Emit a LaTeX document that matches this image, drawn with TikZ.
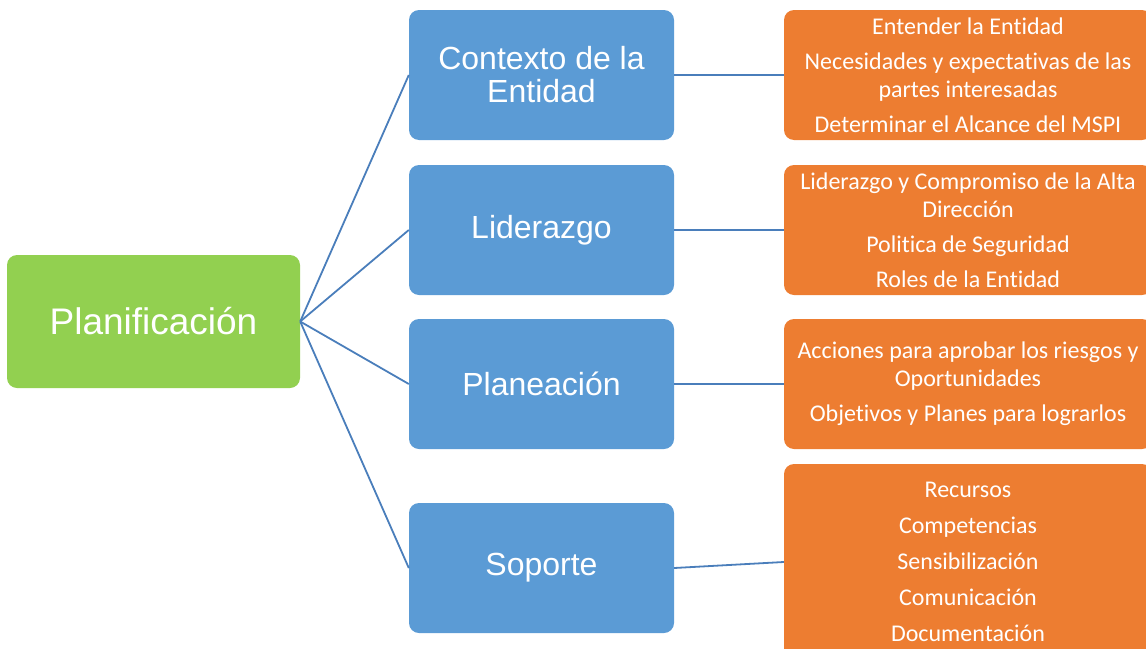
\documentclass[tikz,border=0pt]{standalone}
\usepackage{fontspec}
\setmainfont{Carlito}[Ligatures=NoCommon]
\newfontfamily\arialf{Liberation Sans}
\definecolor{gbox}{HTML}{92D050}
\definecolor{bbox}{HTML}{5B9BD5}
\definecolor{obox}{HTML}{ED7D31}
\definecolor{conn}{HTML}{4A7EBB}
\begin{document}
\begin{tikzpicture}[x=1pt,y=-1pt,
  rootbox/.style={fill=gbox,rounded corners=10pt,minimum width=293pt,minimum height=133pt,text=white,font=\arialf\fontsize{37}{42}\selectfont,inner sep=0pt},
  midbox/.style={fill=bbox,rounded corners=10pt,minimum width=265pt,minimum height=130pt,text=white,font=\arialf\fontsize{32}{33}\selectfont,align=center,inner sep=0pt},
  leafbox/.style={fill=obox,rounded corners=10pt,minimum width=368pt,minimum height=130pt,text=white,font=\fontsize{24}{28}\selectfont,align=center,inner sep=0pt},
  link/.style={draw=conn,line width=1.8pt}]
\useasboundingbox (0,0) rectangle (1146,648);
\clip (0,0) rectangle (1146,648);
\node[rootbox] (root) at (153.5,321.5) {Planificación};
\node[midbox] (b1) at (541.5,75) {Contexto de la\\Entidad};
\node[midbox] (b2) at (541.5,230) {Liderazgo};
\node[midbox] (b3) at (541.5,384) {Planeación};
\node[midbox] (b4) at (541.5,568) {Soporte};
\node[leafbox] (o1) at (968,75) {Entender la Entidad\\[7pt]Necesidades y expectativas de las\\partes interesadas\\[7pt]Determinar el Alcance del MSPI};
\node[leafbox] (o2) at (968,230) {Liderazgo y Compromiso de la Alta\\Dirección\\[7pt]Politica de Seguridad\\[7pt]Roles de la Entidad};
\node[leafbox] (o3) at (968,384) {Acciones para aprobar los riesgos y\\Oportunidades\\[7pt]Objetivos y Planes para lograrlos};
\node[leafbox,minimum height=196pt] (o4) at (968,562) {Recursos\\[8pt]Competencias\\[8pt]Sensibilización\\[8pt]Comunicación\\[8pt]Documentación};
\draw[link] (root.east) -- (b1.west);
\draw[link] (root.east) -- (b2.west);
\draw[link] (root.east) -- (b3.west);
\draw[link] (root.east) -- (b4.west);
\draw[link] (b1.east) -- (o1.west);
\draw[link] (b2.east) -- (o2.west);
\draw[link] (b3.east) -- (o3.west);
\draw[link] (b4.east) -- (o4.west);
\end{tikzpicture}
\end{document}
